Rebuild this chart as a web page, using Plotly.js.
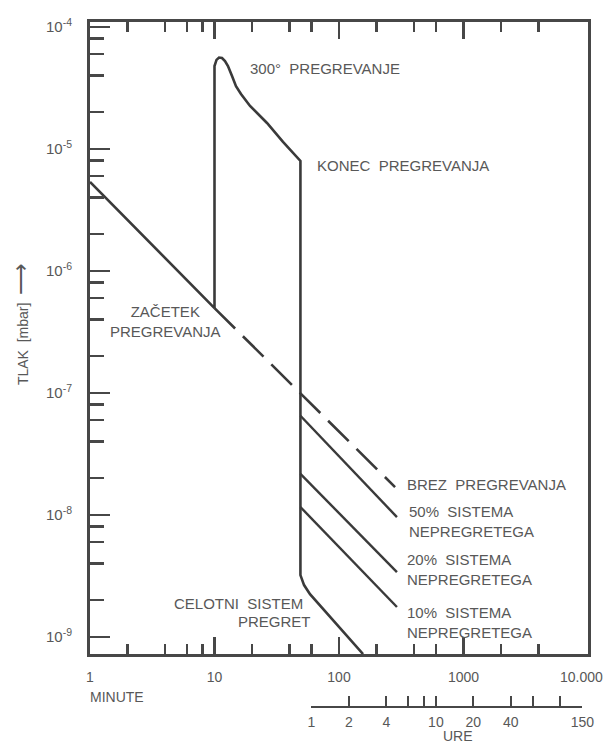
<!DOCTYPE html>
<html><head><meta charset="utf-8">
<script src="https://cdn.plot.ly/plotly-3.0.1.min.js"></script>
<style>html,body{margin:0;padding:0;background:#fff}</style>
</head><body><div id="chart" style="width:605px;height:744px"></div>
<script>
// time in minutes, pressure in mbar
const mainT = [1, 10, 10, 10.38, 10.87, 11.49, 12.14, 12.83, 13.83, 14.88, 16.32, 19.3, 26.4, 35.5, 49, 49, 52.4, 58.5, 156];
const mainP = [5.36e-6, 4.96e-7, 4.78e-5, 5.36e-5, 5.61e-5, 5.56e-5, 5.25e-5, 4.78e-5, 3.95e-5, 3.27e-5, 2.82e-5, 2.25e-5, 1.63e-5, 1.14e-5, 7.96e-6, 3.21e-9, 2.66e-9, 2.24e-9, 7.24e-10];
const brezT = [10, 282];
const brezP = [4.96e-7, 1.69e-8];
const b50T = [49, 292];
const b50P = [6.5e-8, 9.6e-9];
const b20T = [49, 292];
const b20P = [2.17e-8, 3.40e-9];
const b10T = [49, 292];
const b10P = [1.16e-8, 1.76e-9];

const xTickVals = [1, 10, 100, 1000, 10000];
const xTickText = ['1', '10', '100', '1000', ''];
const xLastLabel = '10.000';
const xMinorVals = [2, 4, 6, 8, 20, 40, 60, 200, 400, 600, 2000, 4000];
const yTickVals = [1e-9, 1e-8, 1e-7, 1e-6, 1e-5, 1e-4];
const yTickText = ['10<sup>-9</sup>', '10<sup>-8</sup>', '10<sup>-7</sup>', '10<sup>-6</sup>', '10<sup>-5</sup>', '10<sup>-4</sup>'];
const yMinorVals = [2e-9, 4e-9, 6e-9, 8e-9, 2e-8, 4e-8, 6e-8, 8e-8, 2e-7, 4e-7, 6e-7, 8e-7, 2e-6, 4e-6, 6e-6, 8e-6, 2e-5, 4e-5, 6e-5, 8e-5];
// hours axis (URE), expressed in minutes
const ureVals = [60, 120, 240, 360, 480, 600, 1200, 2400, 3600, 6000, 9000];
const ureText = ['1', '2', '4', '', '', '10', '20', '40', '', '', '150'];

const LINE = '#3a3a3a';
const AX = '#474747';
const TXT = '#585858';
const FONT = 'Liberation Sans, Arial, sans-serif';

const traces = [
  {x: mainT, y: mainP, mode: 'lines', line: {color: LINE, width: 2.6}, hoverinfo: 'skip'},
  {x: brezT, y: brezP, mode: 'lines', line: {color: LINE, width: 2.6, dash: '29px,11px'}, hoverinfo: 'skip'},
  {x: b50T, y: b50P, mode: 'lines', line: {color: LINE, width: 2.4}, hoverinfo: 'skip'},
  {x: b20T, y: b20P, mode: 'lines', line: {color: LINE, width: 2.4}, hoverinfo: 'skip'},
  {x: b10T, y: b10P, mode: 'lines', line: {color: LINE, width: 2.4}, hoverinfo: 'skip'},
  {x: [], y: [], xaxis: 'x2', yaxis: 'y', mode: 'lines', hoverinfo: 'skip'}
];

const d1 = Math.log10(ureVals[0]) / 4;
const d2 = Math.log10(ureVals[ureVals.length - 1]) / 4;

const sp = '\u00a0';
const LS = 15;
function ann(text, x, y, xa, extra) {
  return Object.assign({text: text, x: x, y: y, xref: 'paper', yref: 'paper', xanchor: xa, yanchor: 'middle',
    showarrow: false, font: {family: FONT, size: LS, color: TXT}}, extra || {});
}
const f14 = {font: {family: FONT, size: 14, color: TXT}};

const layout = {
  width: 605, height: 744,
  margin: {l: 90, r: 17, t: 22, b: 37},
  paper_bgcolor: '#fff', plot_bgcolor: 'rgba(0,0,0,0)',
  showlegend: false,
  font: {family: FONT, color: TXT, size: 14},
  xaxis: {
    type: 'log', range: [0, 4], domain: [0, 1],
    tickmode: 'array', tickvals: xTickVals, ticktext: xTickText,
    ticks: 'inside', ticklen: 17, tickwidth: 2.5, tickcolor: AX,
    minor: {tickmode: 'array', tickvals: xMinorVals, ticks: 'inside', ticklen: 10, tickwidth: 2.5, tickcolor: AX, showgrid: false},
    showline: true, linecolor: AX, linewidth: 3, mirror: 'ticks',
    showgrid: false, zeroline: false,
    tickfont: {family: FONT, size: 14, color: TXT}, ticklabelstandoff: 8, ticklabeloverflow: 'allow'
  },
  xaxis2: {
    type: 'log', range: [Math.log10(ureVals[0]), Math.log10(ureVals[ureVals.length - 1])],
    domain: [d1, d2], anchor: 'free', position: 0,
    tickmode: 'array', tickvals: ureVals, ticktext: ureText,
    ticks: 'inside', ticklen: 10, tickwidth: 2, tickcolor: AX,
    showline: true, linecolor: AX, linewidth: 2,
    showgrid: false, zeroline: false,
    tickfont: {family: FONT, size: 14, color: TXT}, ticklabelstandoff: 2, ticklabeloverflow: 'allow'
  },
  yaxis: {
    type: 'log', range: [-9.14, -3.96], domain: [53 / 685, 1],
    tickmode: 'array', tickvals: yTickVals, ticktext: yTickText,
    ticks: 'inside', ticklen: 20, tickwidth: 2.5, tickcolor: AX,
    minor: {tickmode: 'array', tickvals: yMinorVals, ticks: 'inside', ticklen: 14, tickwidth: 2.5, tickcolor: AX, showgrid: false},
    showline: true, linecolor: AX, linewidth: 3, mirror: true,
    showgrid: false, zeroline: false,
    tickfont: {family: FONT, size: 15, color: TXT}, ticklabelstandoff: 12
  },
  annotations: [
    ann('300°' + sp + sp + 'PREGREVANJE', 0.3173, 0.9314, 'left'),
    ann('KONEC' + sp + sp + 'PREGREVANJA', 0.4518, 0.7912, 'left'),
    ann('ZAČETEK<br>PREGREVANJA', 0.1526, 0.5635, 'center', {align: 'center'}),
    ann('BREZ' + sp + sp + 'PREGREVANJA', 0.6325, 0.3255, 'left'),
    ann('50%' + sp + sp + 'SISTEMA<br>NEPREGRETEGA', 0.6365, 0.2715, 'left', {align: 'left'}),
    ann('20%' + sp + sp + 'SISTEMA<br>NEPREGRETEGA', 0.6325, 0.2007, 'left', {align: 'left'}),
    ann('10%' + sp + sp + 'SISTEMA<br>NEPREGRETEGA', 0.6325, 0.1234, 'left', {align: 'left'}),
    ann('CELOTNI' + sp + sp + 'SISTEM', 0.4317, 0.1504, 'right'),
    ann('PREGRET', 0.4478, 0.1255, 'right'),
    ann(xLastLabel, 1.034, 0.0445, 'right', f14),
    ann('MINUTE', -0.004, 0.0146, 'left', f14),
    ann('URE', 0.739, -0.042, 'center', f14),
    ann('TLAK' + sp + sp + '[mbar]' + sp + sp + '<span style="font-size:22px">⟶</span>', -0.1406, 0.559, 'center', {textangle: -90, font: {family: FONT, size: 14, color: TXT}})
  ]
};

Plotly.newPlot('chart', traces, layout, {staticPlot: true, displayModeBar: false});
</script>
</body></html>
